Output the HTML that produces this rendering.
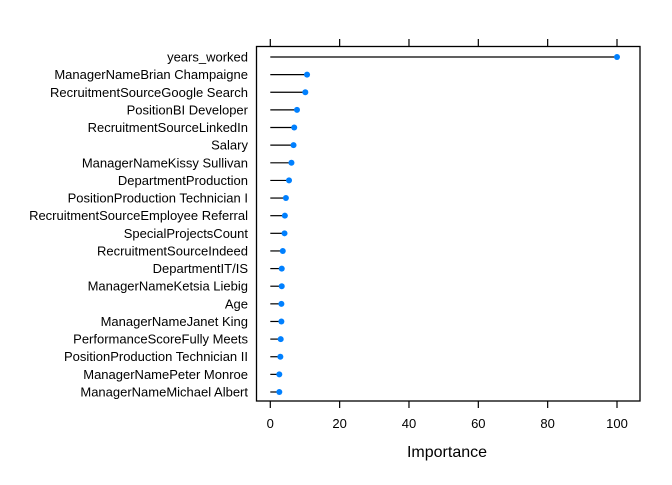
<!DOCTYPE html>
<html><head><meta charset="utf-8"><style>
body{margin:0;background:#fff}
svg text{font-family:"Liberation Sans",Arial,sans-serif;fill:#000}
</style></head><body>
<svg id="chart" width="672" height="480" xmlns="http://www.w3.org/2000/svg">
<rect width="672" height="480" fill="#fff"/>
<rect x="256.5" y="46.5" width="383.5" height="354.5" fill="none" stroke="#000" stroke-width="1.3"/>
<g id="marks"></g>
<g id="axes"></g>
<text x="447" y="457" font-size="16" text-anchor="middle">Importance</text>
</svg>
<script>
const categories=["years_worked","ManagerNameBrian Champaigne","RecruitmentSourceGoogle Search","PositionBI Developer","RecruitmentSourceLinkedIn","Salary","ManagerNameKissy Sullivan","DepartmentProduction","PositionProduction Technician I","RecruitmentSourceEmployee Referral","SpecialProjectsCount","RecruitmentSourceIndeed","DepartmentIT/IS","ManagerNameKetsia Liebig","Age","ManagerNameJanet King","PerformanceScoreFully Meets","PositionProduction Technician II","ManagerNamePeter Monroe","ManagerNameMichael Albert"];
const importance=[100,10.6,10.1,7.7,6.9,6.7,6.1,5.4,4.5,4.2,4.1,3.6,3.3,3.3,3.2,3.2,3.0,2.9,2.6,2.6];
const xTicks=[0,20,40,60,80,100];
const NS="http://www.w3.org/2000/svg";
const x=v=>270.3+v*3.467;
const y=i=>57+i*(392-57)/(categories.length-1);
const marks=document.getElementById('marks'),axes=document.getElementById('axes');
function mk(tag,attrs,parent){const e=document.createElementNS(NS,tag);for(const k in attrs)e.setAttribute(k,attrs[k]);parent.appendChild(e);return e;}
categories.forEach((c,i)=>{
  const l=mk('line',{x1:x(0),x2:x(importance[i]),y1:y(i),y2:y(i),stroke:'#000','stroke-width':1.2},marks);
  
  
  const p=mk('circle',{cx:x(importance[i]),cy:y(i),r:3,fill:'#0080ff'},marks);
  
  
  const t=mk('text',{x:248,y:y(i)+4.5,'font-size':13,'text-anchor':'end'},axes);
  t.textContent=c;
  
  
});
xTicks.forEach(v=>{
  const a=mk('line',{x1:x(v),x2:x(v),y1:39,y2:46,stroke:'#000','stroke-width':1.2},axes);
  
  
  const b=mk('line',{x1:x(v),x2:x(v),y1:401,y2:408,stroke:'#000','stroke-width':1.2},axes);
  
  
  const t=mk('text',{x:x(v),y:428,'font-size':13,'text-anchor':'middle'},axes);
  t.textContent=v;
  
  
});
</script>
</body></html>
